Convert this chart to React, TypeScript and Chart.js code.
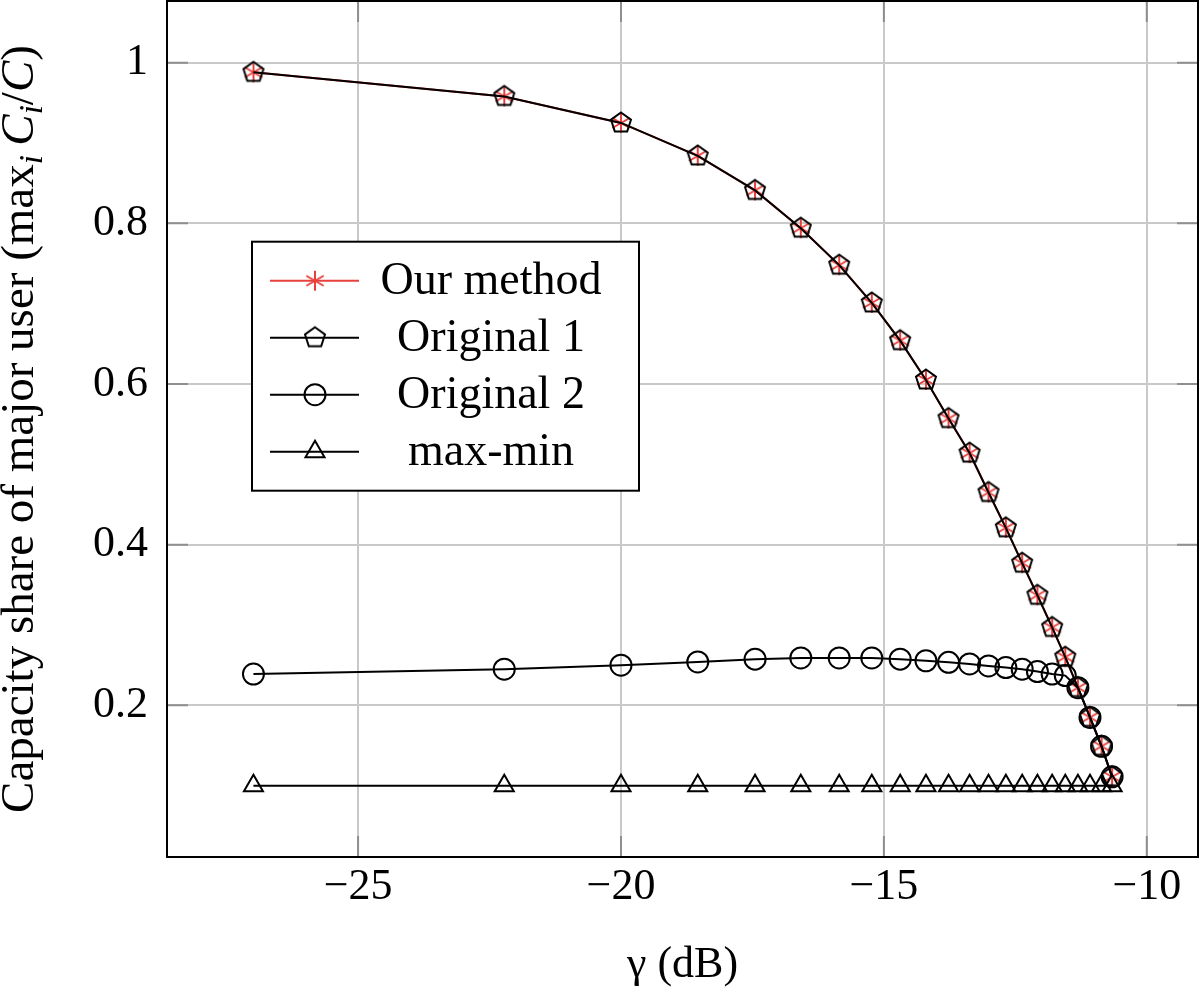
import React, { useEffect, useRef } from 'react';
import { Chart, registerables } from 'chart.js';
import { drawPoint } from 'chart.js/helpers';

Chart.register(...registerables);

const FONT = '"Liberation Serif", "DejaVu Serif", serif';
const RED = '#e8403c';

// gamma in dB (x positions of the markers)
const gammaDb = [-26.99, -22.22, -20.0, -18.54, -17.45, -16.58, -15.85, -15.23, -14.69, -14.2, -13.77, -13.37, -13.01, -12.68, -12.37, -12.08, -11.8, -11.55, -11.31, -11.08, -10.86, -10.66];
const ourMethod = [0.988, 0.958, 0.925, 0.884, 0.841, 0.794, 0.748, 0.701, 0.654, 0.605, 0.557, 0.514, 0.465, 0.421, 0.377, 0.337, 0.297, 0.26, 0.222, 0.185, 0.149, 0.111];
const original1 = [0.988, 0.958, 0.925, 0.884, 0.841, 0.794, 0.748, 0.701, 0.654, 0.605, 0.557, 0.514, 0.465, 0.421, 0.377, 0.337, 0.297, 0.26, 0.222, 0.185, 0.149, 0.111];
const original2 = [0.239, 0.245, 0.25, 0.254, 0.2575, 0.259, 0.259, 0.259, 0.2575, 0.2555, 0.2535, 0.2515, 0.249, 0.247, 0.245, 0.242, 0.239, 0.237, 0.222, 0.185, 0.149, 0.111];
const maxMin = [0.1, 0.1, 0.1, 0.1, 0.1, 0.1, 0.1, 0.1, 0.1, 0.1, 0.1, 0.1, 0.1, 0.1, 0.1, 0.1, 0.1, 0.1, 0.1, 0.1, 0.1, 0.1];
const seriesLabels = ['Our method', 'Original 1', 'Original 2', 'max-min'];
const xTicks = [-25, -20, -15, -10];
const yTicks = [0.2, 0.4, 0.6, 0.8, 1];
const xRange = [-28.634, -9.026];
const yRange = [0.0112, 1.0768];
const xTitle = 'γ (dB)';

function makePentagon(r: number, lw: number, color: string) {
  const size = 2 * Math.ceil(r + lw + 2);
  const c = document.createElement('canvas');
  c.width = size;
  c.height = size;
  const ctx = c.getContext('2d')!;
  const cx = size / 2;
  const cy = size / 2;
  ctx.beginPath();
  for (let k = 0; k < 5; k++) {
    const a = -Math.PI / 2 + (k * 2 * Math.PI) / 5;
    const x = cx + r * Math.cos(a);
    const y = cy + r * Math.sin(a);
    if (k === 0) ctx.moveTo(x, y);
    else ctx.lineTo(x, y);
  }
  ctx.closePath();
  ctx.lineWidth = lw;
  ctx.strokeStyle = color;
  ctx.stroke();
  return c;
}

function makeAsterisk(r: number, lw: number, color: string) {
  const size = 2 * Math.ceil(r + lw + 2);
  const c = document.createElement('canvas');
  c.width = size;
  c.height = size;
  const ctx = c.getContext('2d')!;
  const cx = size / 2;
  const cy = size / 2;
  ctx.strokeStyle = color;
  ctx.lineWidth = lw;
  ctx.beginPath();
  for (const deg of [90, 30, -30]) {
    const a = (deg * Math.PI) / 180;
    ctx.moveTo(cx - r * Math.cos(a), cy - r * Math.sin(a));
    ctx.lineTo(cx + r * Math.cos(a), cy + r * Math.sin(a));
  }
  ctx.stroke();
  return c;
}

const zeroPad = (s: any) => {
  s.paddingTop = 0;
  s.paddingBottom = 0;
  s.paddingLeft = 0;
  s.paddingRight = 0;
};

export default function App() {
  const ref = useRef<HTMLCanvasElement>(null);

  useEffect(() => {
    const canvas = ref.current!;
    const pent = makePentagon(10.5, 2, '#000');
    const star = makeAsterisk(10, 2, RED);

    const toPts = (ys: number[]) => gammaDb.map((x, i) => ({ x, y: ys[i] }));

    const frameTicks = {
      id: 'frameTicks',
      beforeDatasetsDraw(chart: any) {
        const { ctx, chartArea: a, scales } = chart;
        const L = 21;
        ctx.save();
        ctx.strokeStyle = '#8f8f8f';
        ctx.lineWidth = 2;
        ctx.beginPath();
        for (const v of xTicks) {
          const px = scales.x.getPixelForValue(v);
          ctx.moveTo(px, a.bottom);
          ctx.lineTo(px, a.bottom - L);
          ctx.moveTo(px, a.top);
          ctx.lineTo(px, a.top + L);
        }
        for (const v of yTicks) {
          const py = scales.y.getPixelForValue(v);
          ctx.moveTo(a.left, py);
          ctx.lineTo(a.left + L, py);
          ctx.moveTo(a.right, py);
          ctx.lineTo(a.right - L, py);
        }
        ctx.stroke();
        ctx.restore();
      },
      afterDatasetsDraw(chart: any) {
        const { ctx, chartArea: a } = chart;
        ctx.save();
        ctx.strokeStyle = '#000';
        ctx.lineWidth = 2;
        ctx.strokeRect(a.left, a.top, a.right - a.left, a.bottom - a.top);
        ctx.restore();
      },
    };

    const yTitle = {
      id: 'yTitle',
      afterDraw(chart: any) {
        const { ctx, chartArea: a } = chart;
        const big = `47px ${FONT}`;
        const bigIt = `italic 47px ${FONT}`;
        const sub = `italic 33px ${FONT}`;
        const parts: [string, string, number][] = [
          ['Capacity share of major user (max', big, 0],
          ['i', sub, 9],
          ['\u2009', big, 0],
          ['C', bigIt, 0],
          ['i', sub, 9],
          ['/', big, 0],
          ['C', bigIt, 0],
          [')', big, 0],
        ];
        ctx.save();
        let total = 0;
        const widths = parts.map(([t, f]) => {
          ctx.font = f;
          const w = ctx.measureText(t).width;
          total += w;
          return w;
        });
        ctx.translate(33, (a.top + a.bottom) / 2);
        ctx.rotate(-Math.PI / 2);
        ctx.fillStyle = '#000';
        ctx.textBaseline = 'alphabetic';
        ctx.textAlign = 'left';
        let u = -total / 2;
        parts.forEach(([t, f, dv], i) => {
          ctx.font = f;
          ctx.fillText(t, u, dv);
          u += widths[i];
        });
        ctx.restore();
      },
    };

    const legendBox = {
      id: 'legendBox',
      afterDraw(chart: any) {
        const { ctx, chartArea: a } = chart;
        const left = a.left + 85;
        const top = a.top + 240.7;
        const w = 387;
        const h = 249;
        ctx.save();
        ctx.fillStyle = '#fff';
        ctx.fillRect(left, top, w, h);
        ctx.strokeStyle = '#000';
        ctx.lineWidth = 2;
        ctx.strokeRect(left, top, w, h);
        chart.data.datasets.forEach((ds: any, i: number) => {
          const ry = top + 39 + i * 57;
          ctx.strokeStyle = ds.borderColor;
          ctx.lineWidth = 2;
          ctx.beginPath();
          ctx.moveTo(left + 18, ry);
          ctx.lineTo(left + 107, ry);
          ctx.stroke();
          ctx.fillStyle = 'rgba(0,0,0,0)';
          ctx.strokeStyle = ds.pointBorderColor;
          drawPoint(ctx, { pointStyle: ds.pointStyle, radius: ds.pointRadius, rotation: 0, borderWidth: 2 } as any, left + 63, ry);
          ctx.fillStyle = '#000';
          ctx.font = `46px ${FONT}`;
          ctx.textAlign = 'center';
          ctx.textBaseline = 'alphabetic';
          ctx.fillText(ds.label, left + 239, ry + 13);
        });
        ctx.restore();
      },
    };

    const tickFont = { family: FONT, size: 44, lineHeight: 1 };
    const fmtX = (v: number) => (v < 0 ? '\u2212' + Math.abs(v) : String(v));
    const fmtY = (v: number) => (v === 1 ? '1' : v.toFixed(1));

    const chart = new Chart(canvas, {
      type: 'line',
      data: {
        datasets: [
          {
            label: seriesLabels[0],
            data: toPts(ourMethod),
            borderColor: RED,
            borderWidth: 2,
            pointStyle: star as any,
            pointRadius: 10,
            pointBorderColor: RED,
            pointBackgroundColor: 'rgba(0,0,0,0)',
            pointBorderWidth: 2,
            tension: 0,
            order: 4,
          },
          {
            label: seriesLabels[1],
            data: toPts(original1),
            borderColor: '#000',
            borderWidth: 2,
            pointStyle: pent as any,
            pointRadius: 10.5,
            pointBorderColor: '#000',
            pointBackgroundColor: 'rgba(0,0,0,0)',
            pointBorderWidth: 2,
            tension: 0,
            order: 3,
          },
          {
            label: seriesLabels[2],
            data: toPts(original2),
            borderColor: '#000',
            borderWidth: 2,
            pointStyle: 'circle',
            pointRadius: 10.5,
            pointBorderColor: '#000',
            pointBackgroundColor: 'rgba(0,0,0,0)',
            pointBorderWidth: 2,
            tension: 0,
            order: 2,
          },
          {
            label: seriesLabels[3],
            data: toPts(maxMin),
            borderColor: '#000',
            borderWidth: 2,
            pointStyle: 'triangle',
            pointRadius: 11,
            pointBorderColor: '#000',
            pointBackgroundColor: 'rgba(0,0,0,0)',
            pointBorderWidth: 2,
            tension: 0,
            order: 1,
          },
        ],
      },
      options: {
        animation: false,
        responsive: false,
        devicePixelRatio: 1,
        events: [],
        layout: { autoPadding: false, padding: { left: 0, top: 1, right: 2, bottom: 0 } },
        plugins: {
          legend: { display: false },
          tooltip: { enabled: false },
        },
        scales: {
          x: {
            type: 'linear',
            min: xRange[0],
            max: xRange[1],
            afterBuildTicks: (s: any) => {
              s.ticks = xTicks.map((v) => ({ value: v }));
            },
            afterFit: (s: any) => {
              s.height = 133;
              zeroPad(s);
            },
            grid: { color: '#c9c9c9', lineWidth: 2, drawTicks: false },
            border: { display: false },
            ticks: {
              color: '#000',
              font: tickFont,
              padding: 8,
              maxRotation: 0,
              callback: (v: any) => fmtX(Number(v)),
            },
            title: {
              display: true,
              text: xTitle,
              color: '#000',
              font: { family: FONT, size: 44, lineHeight: 1.1 },
              padding: { top: 0, bottom: 0 },
            },
          },
          y: {
            type: 'linear',
            min: yRange[0],
            max: yRange[1],
            afterBuildTicks: (s: any) => {
              s.ticks = yTicks.map((v) => ({ value: v }));
            },
            afterFit: (s: any) => {
              s.width = 167;
              zeroPad(s);
            },
            grid: { color: '#c9c9c9', lineWidth: 2, drawTicks: false },
            border: { display: false },
            ticks: {
              color: '#000',
              font: tickFont,
              padding: 19,
              callback: (v: any) => fmtY(Number(v)),
            },
          },
        },
      },
      plugins: [frameTicks, yTitle, legendBox],
    } as any);

    return () => chart.destroy();
  }, []);

  return (
    <div style={{ position: 'absolute', left: 0, top: 0, width: 1200, height: 990, background: '#fff' }}>
      <canvas ref={ref} width={1200} height={990} style={{ display: 'block', width: 1200, height: 990 }} />
    </div>
  );
}
